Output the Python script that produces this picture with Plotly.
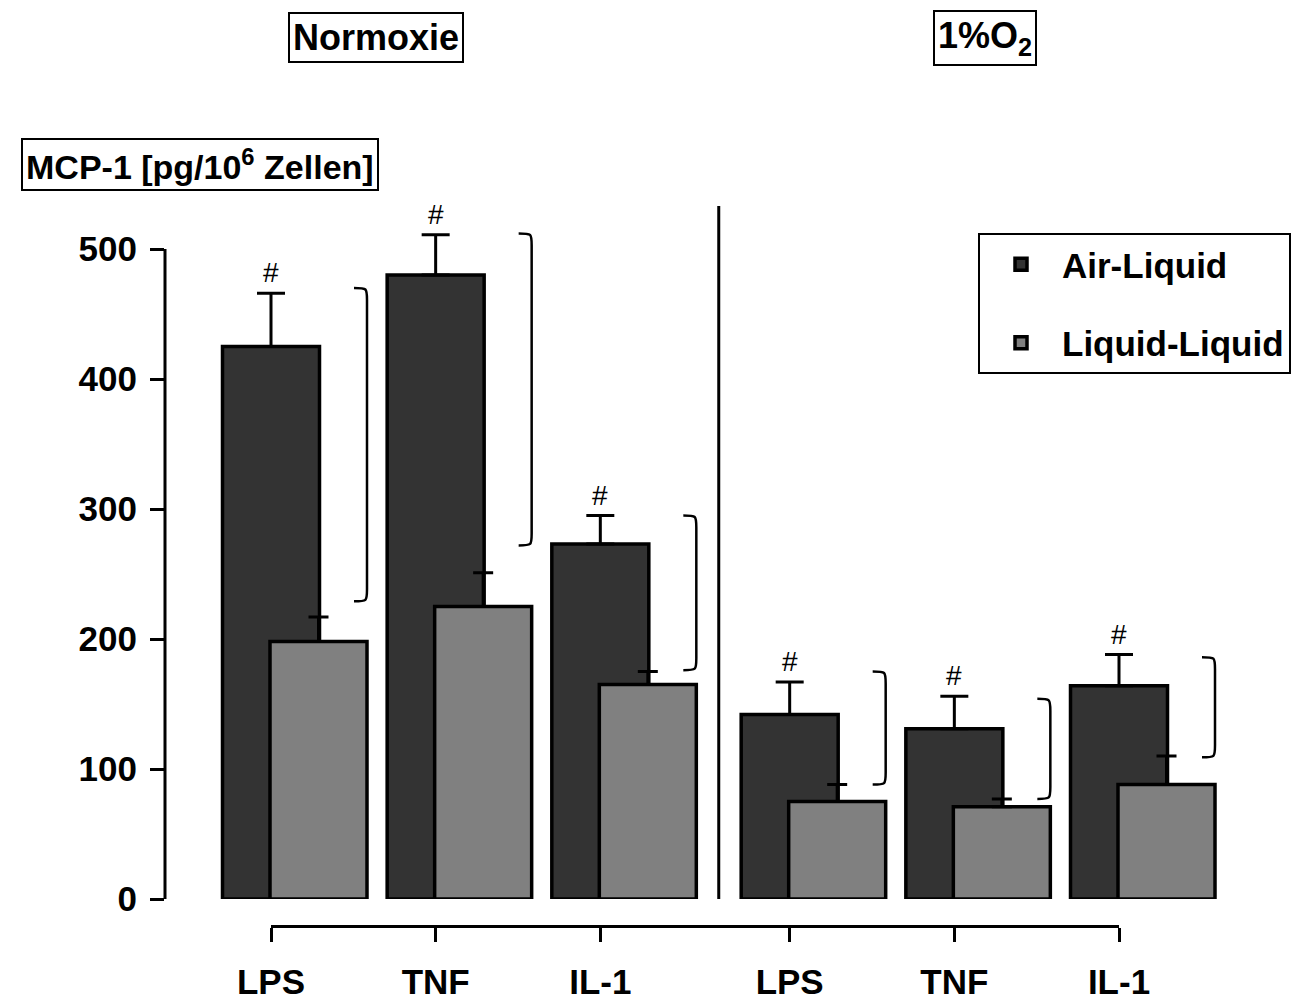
import plotly.graph_objects as go

# ---------------- data ----------------
conditions = ["Normoxie", "1%O<sub>2</sub>"]
stimuli = ["LPS", "TNF", "IL-1", "LPS", "TNF", "IL-1"]
condition_index = [0, 0, 0, 1, 1, 1]
air_liquid = [425, 480, 273, 142, 131, 164]
air_liquid_err = [41, 31, 22, 25, 25, 24]
liquid_liquid = [198, 225, 165, 75, 71, 88]
liquid_liquid_err = [19, 26, 10, 13, 6, 22]
sig_marks = ["#", "#", "#", "#", "#", "#"]
bracket_top = [470, 512, 295, 175, 154, 186]
bracket_bottom = [229, 272, 176, 88, 77, 109]
y_ticks = [0, 100, 200, 300, 400, 500]
y_title = "MCP-1 [pg/10<sup>6</sup> Zellen]"
series_names = ["Air-Liquid", "Liquid-Liquid"]

# ---------------- layout constants ----------------
W, H = 1303, 1000
ML, MR, MT, MB = 165, 13, 190, 74
PW = W - ML - MR
PH = H - MT - MB
GROUP_GAP = 0.15
pos = [i + GROUP_GAP * c for i, c in enumerate(condition_index)]
xmin_px, xmax_px = 271, 1119  # pixel positions of first/last category
k = (xmax_px - xmin_px) / (pos[-1] - pos[0])  # px per unit
x1_range = [pos[0] - (xmin_px - ML) / k, pos[0] + (W - MR - xmin_px) / k]
x2_domain = [(xmin_px - ML) / PW, (xmax_px - ML) / PW]
zero_px = 899
y_px_per_unit = 1.3
y_top = (zero_px - MT) / y_px_per_unit
y_domain0 = (H - MB - zero_px) / PH

BAR_W = 97 / k
LIQ_OFF = 47.5 / k

FONT = "Arial, Liberation Sans, sans-serif"
DARK = "#333333"
GREY = "#808080"

fig = go.Figure()
fig.add_trace(go.Bar(
    x=pos, y=air_liquid, width=BAR_W, name=series_names[0],
    marker=dict(color=DARK, line=dict(color="black", width=3.5)),
    error_y=dict(type="data", array=air_liquid_err, symmetric=False,
                 arrayminus=[0] * len(air_liquid), color="black",
                 thickness=3, width=14),
    legendgroup="a",
))
fig.add_trace(go.Bar(
    x=[p + LIQ_OFF for p in pos], y=liquid_liquid, width=BAR_W, name=series_names[1],
    marker=dict(color=GREY, line=dict(color="black", width=3.5)),
    error_y=dict(type="data", array=liquid_liquid_err, symmetric=False,
                 arrayminus=[0] * len(liquid_liquid), color="black",
                 thickness=3, width=10),
    legendgroup="b",
))
# helper trace to create the bottom category axis
fig.add_trace(go.Scatter(x=[pos[0]], y=[0], xaxis="x2", yaxis="y", mode="markers",
                         marker=dict(opacity=0), showlegend=False, hoverinfo="skip"))

shapes = []
# y-axis line (0..500)
shapes.append(dict(type="line", xref="paper", yref="y", x0=0, x1=0, y0=0, y1=y_ticks[-1],
                   line=dict(color="black", width=3)))
# separator between conditions
sep_x = ((pos[2] + LIQ_OFF + BAR_W / 2) + (pos[3] - BAR_W / 2)) / 2
shapes.append(dict(type="line", xref="x", yref="y", x0=sep_x, x1=sep_x, y0=0, y1=533,
                   line=dict(color="black", width=3)))
# significance brackets ")"
bw = 13 / k
d = 12 / y_px_per_unit
for i, p in enumerate(pos):
    xr = p + LIQ_OFF + BAR_W / 2
    xl = xr - bw
    yt, yb = bracket_top[i], bracket_bottom[i]
    path = (f"M {xl},{yt} C {xr},{yt} {xr},{yt} {xr},{yt - d} "
            f"L {xr},{yb + d} C {xr},{yb} {xr},{yb} {xl},{yb}")
    shapes.append(dict(type="path", xref="x", yref="y", path=path,
                       line=dict(color="black", width=2.5)))

annotations = []
for i, p in enumerate(pos):
    annotations.append(dict(x=p, y=air_liquid[i] + air_liquid_err[i], xref="x", yref="y",
                            text=sig_marks[i], showarrow=False, yanchor="bottom", yshift=3,
                            font=dict(family=FONT, size=28, color="black")))

def px_to_paper(xp, yp):
    return (xp - ML) / PW, (H - MB - yp) / PH

for txt, (cx, cy) in zip(conditions, [(375.5, 38), (985, 38)]):
    ax, ay = px_to_paper(cx, cy)
    annotations.append(dict(x=ax, y=ay, xref="paper", yref="paper", text=txt,
                            showarrow=False, xanchor="center", yanchor="middle",
                            font=dict(family=FONT, size=36, color="black", weight="bold"),
                            bordercolor="black", borderwidth=2, borderpad=3,
                            bgcolor="white"))
tx, ty = px_to_paper(200, 165)
annotations.append(dict(x=tx, y=ty, xref="paper", yref="paper", text=y_title,
                        showarrow=False, xanchor="center", yanchor="middle",
                        font=dict(family=FONT, size=34, color="black", weight="bold"),
                        bordercolor="black", borderwidth=2, borderpad=3, bgcolor="white"))

lx, ly = px_to_paper(978, 233)
fig.update_layout(
    width=W, height=H,
    margin=dict(l=ML, r=MR, t=MT, b=MB, autoexpand=False),
    paper_bgcolor="white", plot_bgcolor="rgba(0,0,0,0)",
    barmode="overlay",
    showlegend=True,
    legend=dict(x=lx, y=ly, xanchor="left", yanchor="top",
                font=dict(family=FONT, size=35, color="black", weight="bold"),
                bordercolor="black", borderwidth=2, bgcolor="white",
                tracegroupgap=30, itemwidth=72),
    xaxis=dict(range=x1_range, domain=[0, 1], showticklabels=False, showgrid=False,
               zeroline=False, showline=False, ticks="", automargin=False),
    xaxis2=dict(range=[pos[0], pos[-1]], domain=x2_domain, anchor="free", position=0,
                showline=True, linecolor="black", linewidth=3,
                ticks="outside", ticklen=14, tickwidth=3, tickcolor="black",
                tickvals=pos, ticktext=stimuli, showgrid=False, zeroline=False,
                tickfont=dict(family=FONT, size=35, color="black", weight="bold"),
                ticklabelstandoff=10, automargin=False),
    yaxis=dict(range=[0, y_top], domain=[y_domain0, 1], showline=False,
               ticks="outside", ticklen=14, tickwidth=3, tickcolor="black",
               tickvals=y_ticks, showgrid=False, zeroline=False,
               tickfont=dict(family=FONT, size=35, color="black", weight="bold"),
               ticklabelstandoff=6, automargin=False),
    shapes=shapes,
    annotations=annotations,
)

fig.write_html("out.html", config={"displayModeBar": False},
               post_script="document.body.style.margin='0px';")
